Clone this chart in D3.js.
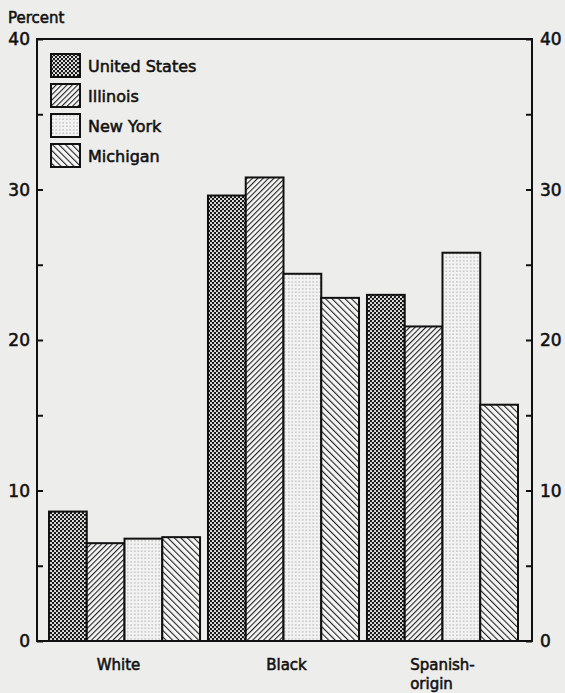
<!DOCTYPE html>
<html>
<head>
<meta charset="utf-8">
<script src="https://cdn.jsdelivr.net/npm/d3@7"></script>
<style>
body{margin:0;background:#ededeb;}
text{font-family:"DejaVu Sans",sans-serif;fill:#111;stroke:#111;stroke-width:0.55px;}
</style>
</head>
<body>
<div id="chart"></div>
<script>
var width = 565;
var height = 693;

// values (percent)
var groups = ["White", "Black", "Spanish-origin"];
var series = ["United States", "Illinois", "New York", "Michigan"];
var usValues       = [8.6, 29.6, 23.0];
var illinoisValues = [6.5, 30.8, 20.9];
var newYorkValues  = [6.8, 24.4, 25.8];
var michiganValues = [6.9, 22.8, 15.7];
var yTicks = [0, 10, 20, 30, 40];
var yMinorTicks = [5, 15, 25, 35];

var values = [usValues, illinoisValues, newYorkValues, michiganValues];
var patternIds = ["pUS", "pIL", "pNY", "pMI"];

var margin = {left:37, right:33, top:39, bottom:52};

var svg = d3.select("#chart").append("svg")
	.attr("width", width).attr("height", height);

var defs = svg.append("defs");

// US: dark with white dots
var p = defs.append("pattern").attr("id","pUS").attr("patternUnits","userSpaceOnUse")
	.attr("width",4).attr("height",4);
p.append("rect").attr("width",4).attr("height",4).attr("fill","#1a1a1a");
p.append("circle").attr("cx",1).attr("cy",1).attr("r",1.05).attr("fill","#f4f4f4");
p.append("circle").attr("cx",3).attr("cy",3).attr("r",1.05).attr("fill","#f4f4f4");

// Illinois: "/" lines
p = defs.append("pattern").attr("id","pIL").attr("patternUnits","userSpaceOnUse")
	.attr("width",3.8).attr("height",3.8).attr("patternTransform","rotate(45)");
p.append("rect").attr("width",3.8).attr("height",3.8).attr("fill","#f6f6f6");
p.append("line").attr("x1",0).attr("y1",0).attr("x2",0).attr("y2",3.8)
	.attr("stroke","#222").attr("stroke-width",2.2);

// New York: light dots
p = defs.append("pattern").attr("id","pNY").attr("patternUnits","userSpaceOnUse")
	.attr("width",3.5).attr("height",3.5);
p.append("rect").attr("width",3.5).attr("height",3.5).attr("fill","#f3f3f3");
p.append("circle").attr("cx",1.75).attr("cy",1.75).attr("r",0.75).attr("fill","#a8a8a8");

// Michigan: "\" lines
p = defs.append("pattern").attr("id","pMI").attr("patternUnits","userSpaceOnUse")
	.attr("width",4.6).attr("height",4.6).attr("patternTransform","rotate(-45)");
p.append("rect").attr("width",4.6).attr("height",4.6).attr("fill","#f6f6f6");
p.append("line").attr("x1",0).attr("y1",0).attr("x2",0).attr("y2",4.6)
	.attr("stroke","#222").attr("stroke-width",2.2);

var x0 = d3.scaleBand().domain(groups)
	.range([margin.left + 12, width - margin.right - 14])
	.paddingInner(0.05).paddingOuter(0);
var x1 = d3.scaleBand().domain(series).range([0, x0.bandwidth()]);
var y = d3.scaleLinear().domain([0, 40]).range([height - margin.bottom, margin.top]);

// bars
var data = [];
groups.forEach(function(g, gi){
	series.forEach(function(s, si){
		data.push({group:g, series:s, si:si, value:values[si][gi]});
	});
});

svg.append("g").selectAll("rect").data(data).enter().append("rect")
	.attr("x", function(d){ return x0(d.group) + x1(d.series); })
	.attr("y", function(d){ return y(d.value); })
	.attr("width", x1.bandwidth())
	.attr("height", function(d){ return y(0) - y(d.value); })
	.attr("fill", function(d){ return "url(#" + patternIds[d.si] + ")"; })
	.attr("stroke", "#111").attr("stroke-width", 2);

// frame
svg.append("rect")
	.attr("x", margin.left).attr("y", margin.top)
	.attr("width", width - margin.left - margin.right)
	.attr("height", height - margin.top - margin.bottom)
	.attr("fill", "none").attr("stroke", "#111").attr("stroke-width", 2);

// axes (ticks pointing inward)
var left = svg.append("g").attr("transform","translate(" + margin.left + ",0)")
	.call(d3.axisRight(y).tickValues(yTicks.concat(yMinorTicks)).tickSize(6).tickFormat(""));
left.select(".domain").remove();
left.selectAll("line").attr("stroke","#111").attr("stroke-width",2);

var right = svg.append("g").attr("transform","translate(" + (width - margin.right) + ",0)")
	.call(d3.axisLeft(y).tickValues(yTicks.concat(yMinorTicks)).tickSize(6).tickFormat(""));
right.select(".domain").remove();
right.selectAll("line").attr("stroke","#111").attr("stroke-width",2);

svg.append("g").selectAll("text").data(yTicks).enter().append("text")
	.attr("x", margin.left - 7).attr("y", function(d){ return y(d); })
	.attr("dy", "0.36em").attr("text-anchor","end")
	.style("font-size","17px").text(function(d){ return d; });

svg.append("g").selectAll("text").data(yTicks).enter().append("text")
	.attr("x", width - margin.right + 8).attr("y", function(d){ return y(d); })
	.attr("dy", "0.36em").attr("text-anchor","start")
	.style("font-size","17px").text(function(d){ return d; });

svg.append("text").attr("x", 8).attr("y", 23)
	.style("font-size","15px").text("Percent");

// category labels
var catLabels = svg.append("g").selectAll("text").data(groups).enter().append("text")
	.attr("y", 670)
	.style("font-size","15px");
catLabels.each(function(g){
	var t = d3.select(this);
	var cx = x0(g) + x0.bandwidth() / 2;
	if (g == "Spanish-origin"){
		var a = t.append("tspan").text("Spanish-");
		var w = a.node().getComputedTextLength();
		a.attr("x", cx - w / 2);
		t.append("tspan").attr("x", cx - w / 2).attr("dy", 19).text("origin");
	} else {
		t.attr("x", g == "White" ? cx - 6 : cx + 3).attr("text-anchor","middle").text(g);
	}
});

// legend
var legend = svg.append("g").selectAll("g").data(series).enter().append("g")
	.attr("transform", function(d, i){ return "translate(51," + (54 + i * 30) + ")"; });
legend.append("rect").attr("width", 29).attr("height", 23)
	.attr("fill", function(d, i){ return "url(#" + patternIds[i] + ")"; })
	.attr("stroke","#111").attr("stroke-width",2);
legend.append("text").attr("x", 37).attr("y", 18)
	.style("font-size","16px")
	.text(function(d){ return d; });
</script>
</body>
</html>
